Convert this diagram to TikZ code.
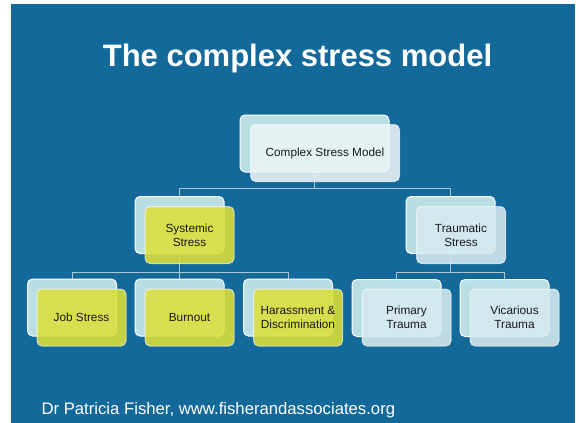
\documentclass[tikz,border=0pt]{standalone}
\usepackage{fontspec}
\setmainfont{Liberation Sans}
\usetikzlibrary{calc}

\definecolor{slideblue}{HTML}{13699A}
\definecolor{paleblue}{HTML}{B9DFE4}
\definecolor{frostwhite}{HTML}{EDF4F7}
\definecolor{mistblue}{HTML}{D6EAEF}
\definecolor{limeyel}{HTML}{DDE03A}
\definecolor{connline}{HTML}{A9C6D4}

\pgfdeclarelayer{bg}
\pgfdeclarelayer{wires}
\pgfsetlayers{bg,wires,main}

\begin{document}
\begin{tikzpicture}[x=1pt,y=-1pt,
  back/.style={draw=white, line width=1pt, fill=paleblue, rounded corners=5pt,
    minimum width=89pt, minimum height=57pt, inner sep=0pt},
  front/.style={draw=white, draw opacity=0.6, line width=1pt, fill=#1, fill opacity=0.88,
    text opacity=1, rounded corners=5pt, minimum width=89pt, minimum height=57pt,
    inner sep=0pt, align=center, text=black!90, font=\fontsize{11.8}{14}\selectfont},
  conn/.style={draw=connline, line width=1pt}]

  \useasboundingbox (0,0) rectangle (579,423);
  \begin{pgfonlayer}{bg}
    \fill[white] (0,0) rectangle (579,423);
    \fill[slideblue] (11,4) rectangle (575,423);
  \end{pgfonlayer}

  \node[text=white, font=\bfseries\fontsize{31}{36}\selectfont] (title) at (297.5,58) {The complex stress model};

  % top of the tree
  \node[back, minimum width=149pt] (modelB) at (314.5,143.5) {};
  \node[front=frostwhite, minimum width=149pt] (model) at (325,153) {Complex Stress Model};

  % second row
  \node[back] (systemicB) at (179.5,225) {};
  \node[front=limeyel] (systemic) at (189.5,235) {Systemic\\Stress};
  \node[back] (traumaticB) at (450.5,225) {};
  \node[front=mistblue] (traumatic) at (461,235) {Traumatic\\Stress};

  % third row
  \node[back] (jobB) at (72,307.5) {};
  \node[front=limeyel] (job) at (81.5,317.5) {Job Stress};
  \node[back] (burnoutB) at (179.5,307.5) {};
  \node[front=limeyel] (burnout) at (189.5,317.5) {Burnout};
  \node[back] (harassB) at (288,307.5) {};
  \node[front=limeyel] (harass) at (298,317.5) {Harassment \&\\Discrimination};
  \node[back] (primaryB) at (396.5,308) {};
  \node[front=mistblue] (primary) at (406.5,317.5) {Primary\\Trauma};
  \node[back] (vicariousB) at (504.5,308) {};
  \node[front=mistblue] (vicarious) at (514.5,317.5) {Vicarious\\Trauma};

  \coordinate (bus1) at (0,188);
  \coordinate (bus2) at (0,272);

  % tree lines sit under the boxes
  \begin{pgfonlayer}{wires}
    \draw[conn] (modelB.south) -- (modelB.south |- bus1) -| (systemicB.north);
    \draw[conn] (modelB.south |- bus1) -| (traumaticB.north);
    \draw[conn] (systemicB.south) -- (systemicB.south |- bus2) -| (jobB.north);
    \draw[conn] (systemicB.south |- bus2) -| (harassB.north);
    \draw[conn] (systemicB.south |- bus2) -- (burnoutB.north);
    \draw[conn] (traumaticB.south) -- (traumaticB.south |- bus2) -| (primaryB.north);
    \draw[conn] (traumaticB.south |- bus2) -| (vicariousB.north);
  \end{pgfonlayer}

  \node[anchor=west, text=white, font=\fontsize{16.7}{20}\selectfont] (credit) at (38,410)
    {Dr Patricia Fisher, www.fisherandassociates.org};
\end{tikzpicture}
\end{document}
